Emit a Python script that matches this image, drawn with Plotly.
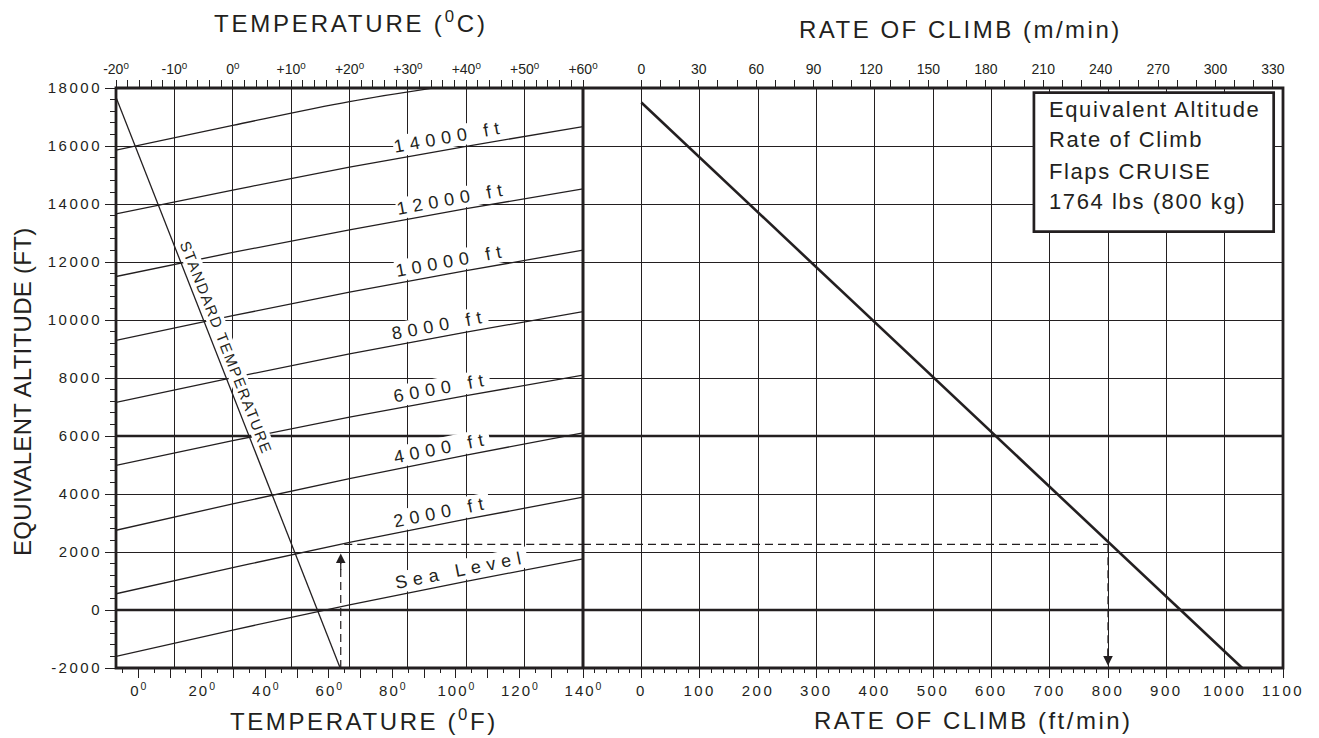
import numpy as np
import plotly.graph_objects as go

# ---------------- data ----------------
# Left panel: equivalent altitude (ft) vs outside air temperature (deg C)
temp_c = [-20, 0, 20, 40, 60]
ea_sea_level = [-1600, -690, 180, 990, 1760]
ea_2000 = [560, 1460, 2330, 3130, 3890]
ea_4000 = [2750, 3660, 4530, 5340, 6110]
ea_6000 = [4990, 5840, 6650, 7390, 8100]
ea_8000 = [7160, 8010, 8830, 9580, 10290]
ea_10000 = [9300, 10150, 10960, 11700, 12410]
ea_12000 = [11500, 12330, 13110, 13840, 14520]
ea_14000 = [13660, 14480, 15270, 15990, 16670]
temp_c_16000 = [-20, 0, 20, 40]
ea_16000 = [15860, 16710, 17530, 18170]
pa_labels = ["Sea Level", "2000 ft", "4000 ft", "6000 ft", "8000 ft",
             "10000 ft", "12000 ft", "14000 ft"]

# Standard temperature line
std_temp_c = [-20, 18.4]
std_temp_ea = [17680, -2000]

# Right panel: rate of climb (ft/min) vs equivalent altitude (ft)
roc_ftmin = [0, 1030]
roc_ea = [17500, -2000]

# Worked example
example_temp_c = 18.5
example_ea = 2265
example_roc = 800

# Axis ticks
c_ticks = [-20, -10, 0, 10, 20, 30, 40, 50, 60]
c_ticktext = ["-20", "-10", "0", "+10", "+20", "+30", "+40", "+50", "+60"]
f_ticks = [0, 10, 20, 30, 40, 50, 60, 70, 80, 90, 100, 110, 120, 130, 140]
f_labels = ["0", "", "20", "", "40", "", "60", "", "80", "", "100", "", "120", "", "140"]
roc_ticks = [0, 100, 200, 300, 400, 500, 600, 700, 800, 900, 1000, 1100]
mmin_ticks = [0, 30, 60, 90, 120, 150, 180, 210, 240, 270, 300, 330]
alt_ticks = [-2000, 0, 2000, 4000, 6000, 8000, 10000, 12000, 14000, 16000, 18000]
legend_lines = ["Equivalent Altitude", "Rate of Climb", "Flaps CRUISE", "1764 lbs (800 kg)"]

# ---------------- layout constants ----------------
W, H = 1319, 738
ML, MR, MT, MB = 116, 36, 88, 70
PW, PH = W - ML - MR, H - MT - MB
SPLIT = 467 / PW               # left panel share of plot width
FT_PER_M = 3.28084
F_RANGE = [-7, 140]
INK = "#231f20"
FONT = "Liberation Sans, Arial, Helvetica, sans-serif"
GW = 1.2


def sp(text, ls):
    return f'<span style="letter-spacing:{ls}px">{text}</span>'


def px_x(px):
    return (px - ML) / PW


def px_y(py):
    return (H - MB - py) / PH


fig = go.Figure()

line_sets = [ea_sea_level, ea_2000, ea_4000, ea_6000, ea_8000,
             ea_10000, ea_12000, ea_14000]
for vals in line_sets:
    fig.add_trace(go.Scatter(x=temp_c, y=vals, mode="lines", line_shape="spline",
                             line=dict(color=INK, width=1.3), xaxis="x", yaxis="y",
                             hoverinfo="skip"))
fig.add_trace(go.Scatter(x=temp_c_16000, y=ea_16000, mode="lines", line_shape="spline",
                         line=dict(color=INK, width=1.3), xaxis="x", yaxis="y",
                         hoverinfo="skip"))
fig.add_trace(go.Scatter(x=std_temp_c, y=std_temp_ea, mode="lines",
                         line=dict(color=INK, width=1.3), xaxis="x", yaxis="y",
                         hoverinfo="skip"))
fig.add_trace(go.Scatter(x=roc_ftmin, y=roc_ea, mode="lines",
                         line=dict(color=INK, width=2.6), xaxis="x2", yaxis="y",
                         hoverinfo="skip"))

# invisible traces so the secondary (deg F and m/min) scales are drawn
fig.add_trace(go.Scatter(x=F_RANGE, y=[-2000, -2000], mode="lines",
                         line=dict(width=0, color="rgba(0,0,0,0)"),
                         xaxis="x3", yaxis="y", hoverinfo="skip"))
fig.add_trace(go.Scatter(x=[0, 330], y=[-2000, -2000], mode="lines",
                         line=dict(width=0, color="rgba(0,0,0,0)"),
                         xaxis="x4", yaxis="y", hoverinfo="skip"))

# worked example dashed path
dash = "8px,5px"
fig.add_trace(go.Scatter(x=[example_temp_c, example_temp_c], y=[-2000, 1800],
                         mode="lines", line=dict(color=INK, width=1.2, dash=dash),
                         xaxis="x", yaxis="y", hoverinfo="skip"))
fig.add_trace(go.Scatter(x=[example_temp_c + 0.6, 60], y=[example_ea, example_ea],
                         mode="lines", line=dict(color=INK, width=1.2, dash=dash),
                         xaxis="x", yaxis="y", hoverinfo="skip"))
fig.add_trace(go.Scatter(x=[-100, example_roc], y=[example_ea, example_ea],
                         mode="lines", line=dict(color=INK, width=1.2, dash=dash),
                         xaxis="x2", yaxis="y", hoverinfo="skip"))
fig.add_trace(go.Scatter(x=[example_roc, example_roc], y=[example_ea, -1800],
                         mode="lines", line=dict(color=INK, width=1.2, dash=dash),
                         xaxis="x2", yaxis="y", hoverinfo="skip"))

tickfont = dict(family=FONT, size=14, color=INK)

fig.update_layout(
    width=W, height=H,
    margin=dict(l=ML, r=MR, t=MT, b=MB, pad=0),
    paper_bgcolor="white", plot_bgcolor="white",
    showlegend=False,
    font=dict(family=FONT, color=INK),
    xaxis=dict(domain=[0, SPLIT], range=[-20, 60], side="top", anchor="y",
               tickmode="array", tickvals=c_ticks,
               ticktext=[t + "<sup>0</sup>" for t in c_ticktext],
               ticks="outside", ticklen=7, tickwidth=1.2, tickcolor=INK,
               tickfont=tickfont, showgrid=True, gridcolor=INK, gridwidth=GW,
               zeroline=False, showline=False,
               minor=dict(tickmode="linear", tick0=-20, dtick=2, ticks="outside",
                          ticklen=7, tickwidth=1, tickcolor=INK, showgrid=False)),
    xaxis3=dict(overlaying="x", side="bottom", anchor="y", range=F_RANGE,
                tickmode="array", tickvals=f_ticks,
                ticktext=[(sp(t, 2) + "<sup>0</sup>") if t else "" for t in f_labels],
                ticks="outside", ticklen=9, tickwidth=1.2, tickcolor=INK,
                tickfont=dict(family=FONT, size=15, color=INK),
                showgrid=False, zeroline=False, showline=False,
                minor=dict(tickmode="linear", tick0=0, dtick=5, ticks="outside",
                           ticklen=4, tickwidth=1, tickcolor=INK, showgrid=False)),
    xaxis2=dict(domain=[SPLIT, 1], range=[-100, 1100], side="bottom", anchor="y",
                tickmode="array", tickvals=roc_ticks,
                ticktext=[sp(str(v), 2.5) for v in roc_ticks],
                ticks="outside", ticklen=9, tickwidth=1.2, tickcolor=INK,
                tickfont=dict(family=FONT, size=15, color=INK),
                showgrid=True, gridcolor=INK, gridwidth=GW,
                zeroline=False, showline=False,
                minor=dict(tickmode="linear", tick0=0, dtick=20, ticks="outside",
                           ticklen=4, tickwidth=1, tickcolor=INK, showgrid=False)),
    xaxis4=dict(overlaying="x2", side="top", anchor="y",
                range=[-100 / FT_PER_M, 1100 / FT_PER_M],
                tickmode="array", tickvals=mmin_ticks,
                ticktext=[str(v) for v in mmin_ticks],
                ticks="outside", ticklen=7, tickwidth=1.2, tickcolor=INK,
                tickfont=tickfont, showgrid=False, zeroline=False, showline=False,
                minor=dict(tickmode="array",
                           tickvals=[v for v in range(10, 331, 10) if v % 30],
                           ticks="outside", ticklen=7, tickwidth=1, tickcolor=INK,
                           showgrid=False)),
    yaxis=dict(domain=[0, 1], range=[-2000, 18000], anchor="x", side="left",
               tickmode="array", tickvals=alt_ticks,
               ticktext=[sp(str(v), 2.5) for v in alt_ticks],
               ticks="outside", ticklen=10, tickwidth=1.2, tickcolor=INK,
               tickfont=dict(family=FONT, size=15, color=INK),
               showgrid=True, gridcolor=INK, gridwidth=GW,
               zeroline=False, showline=False,
               minor=dict(tickmode="linear", tick0=-2000, dtick=400, ticks="outside",
                          ticklen=5, tickwidth=1, tickcolor=INK, showgrid=False)),
)

shapes = [
    # heavy reference lines at 0 ft and 6000 ft
    dict(type="line", xref="paper", yref="y", x0=0, x1=1, y0=0, y1=0,
         line=dict(color=INK, width=2.6), layer="below"),
    dict(type="line", xref="paper", yref="y", x0=0, x1=1, y0=6000, y1=6000,
         line=dict(color=INK, width=2.6), layer="below"),
    # panel divider
    dict(type="line", xref="paper", yref="paper", x0=SPLIT, x1=SPLIT, y0=0, y1=1,
         line=dict(color=INK, width=3), layer="above"),
    # outer frame
    dict(type="rect", xref="paper", yref="paper", x0=0, x1=1, y0=0, y1=1,
         line=dict(color=INK, width=2.8), layer="above"),
    # info box
    dict(type="rect", xref="x2", yref="y", x0=673, x1=1084, y0=13045, y1=17840,
         fillcolor="white", line=dict(color=INK, width=2.7), layer="above"),
]
fig.update_layout(shapes=shapes)

ann = []
# pressure altitude labels
label_t = [39.1, 35.8, 35.8, 35.7, 35.5, 37.4, 37.6, 37.1]
xscale = PW * SPLIT / 80.0         # px per deg C
yscale = PH / 20000.0              # px per ft
for name, vals, t in zip(pa_labels, line_sets, label_t):
    yv = float(np.interp(t, temp_c, vals))
    slope = (np.interp(t + 1, temp_c, vals) - np.interp(t - 1, temp_c, vals)) / 2
    ang = -np.degrees(np.arctan(slope * yscale / xscale))
    ann.append(dict(x=t, y=yv, xref="x", yref="y", text=sp(name, 6), showarrow=False,
                    textangle=ang, yshift=12, bgcolor="white", borderpad=0,
                    font=dict(family=FONT, size=18, color=INK)))

# standard temperature label
st_ea = 8900
st_t = float(np.interp(st_ea, std_temp_ea[::-1], std_temp_c[::-1]))
dxp = (std_temp_c[1] - std_temp_c[0]) * xscale
dyp = (std_temp_ea[0] - std_temp_ea[1]) * yscale
st_ang = np.degrees(np.arctan2(dyp, dxp))
ann.append(dict(x=st_t, y=st_ea, xref="x", yref="y", text=sp("STANDARD TEMPERATURE", 1.5),
                showarrow=False, textangle=st_ang, xshift=10, yshift=4,
                bgcolor="white", borderpad=0,
                font=dict(family=FONT, size=15, color=INK)))

# arrows of the worked example
ann.append(dict(x=example_temp_c, y=1950, xref="x", yref="y", ax=0, ay=18,
                text="", showarrow=True, arrowhead=2, arrowsize=1.6, arrowwidth=1.2,
                arrowcolor=INK))
ann.append(dict(x=example_roc, y=-1920, xref="x2", yref="y", ax=0, ay=-18,
                text="", showarrow=True, arrowhead=2, arrowsize=1.6, arrowwidth=1.2,
                arrowcolor=INK))

# info box text
for i, line in enumerate(legend_lines):
    ann.append(dict(x=px_x(1047), y=px_y(109 + 31 * i), xref="paper", yref="paper",
                    xanchor="left", yanchor="middle", showarrow=False,
                    text=sp(line, 1.6), font=dict(family=FONT, size=22, color=INK)))

# axis titles
title_font = dict(family=FONT, size=24, color=INK)


def title(px, py, text, angle=0, ls=2.5):
    return dict(x=px_x(px), y=px_y(py), xref="paper", yref="paper", showarrow=False,
                xanchor="center", yanchor="middle", textangle=angle,
                text=sp(text, ls), font=title_font)


ann += [
    title(351, 22, "TEMPERATURE (<sup>0</sup>C)", ls=2.8),
    title(960, 30, "RATE OF CLIMB (m/min)"),
    title(364, 720, "TEMPERATURE (<sup>0</sup>F)", ls=2.6),
    title(973, 720, "RATE OF CLIMB (ft/min)"),
    title(23, 392, "EQUIVALENT ALTITUDE (FT)", angle=-90, ls=0.3),
]
fig.update_layout(annotations=ann)

fig.write_html("out.html", config={"displayModeBar": False},
               post_script="document.body.style.margin='0';document.body.style.overflow='hidden';")
